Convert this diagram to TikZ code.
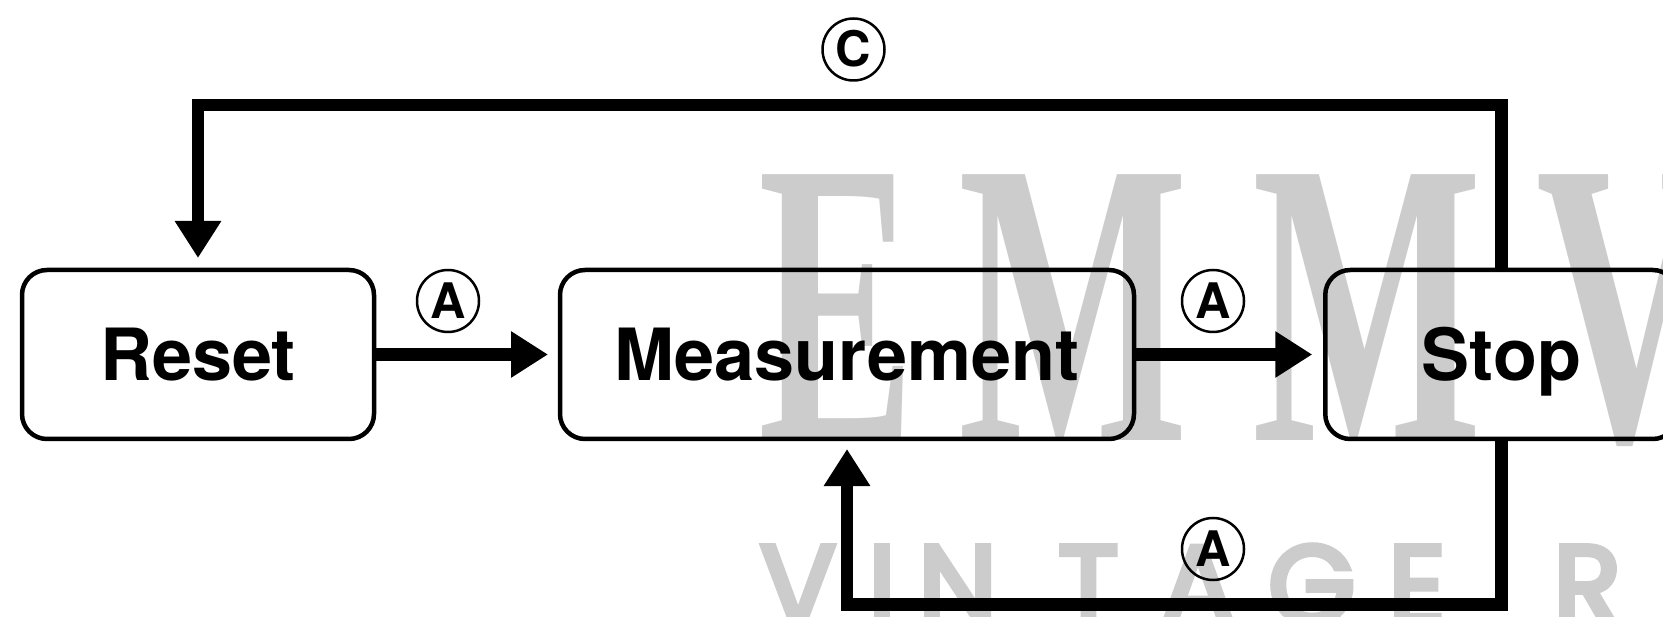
\documentclass[tikz,border=0pt]{standalone}
\usepackage{fontspec}
\setmainfont{TeX Gyre Heros}
\newfontfamily\wmserif{Liberation Serif}
\newfontfamily\wmsans[FakeBold=5]{Poppins}
\usetikzlibrary{arrows.meta}
\begin{document}
\begin{tikzpicture}[x=1pt,y=-1pt,
  stage/.style={draw, line width=4.5pt, rounded corners=25pt, inner sep=0pt,
    outer sep=0pt, minimum height=169pt, text height=52pt, text depth=0pt,
    font=\fontsize{72}{80}\selectfont\bfseries},
  flow/.style={line width=12.5pt, line join=miter,
    -{Triangle[length=37pt,width=44pt]}},
  tag/.style={draw, circle, line width=2.5pt, minimum size=62pt, inner sep=0pt,
    text height=35pt, text depth=0pt, font=\fontsize{49}{50}\selectfont\bfseries},
  wmbig/.style={text=black!20, inner sep=0pt, anchor=base west,
    font=\wmserif\bfseries\fontsize{406}{410}\selectfont},
  wmsmall/.style={text=black!20, inner sep=0pt, anchor=base west,
    font=\wmsans\fontsize{112}{114}\selectfont}]

  \useasboundingbox (0,0) rectangle (1663,617);
  \fill[white] (0,0) rectangle (1663,617);
  \clip (0,0) rectangle (1663,617);

  % background lettering
  \node[wmbig] (wE)  at (758,440)  {\scalebox{0.58}[1]{E}};
  \node[wmbig] (wM1) at (958,440)  {\scalebox{0.6}[1]{M}};
  \node[wmbig] (wM2) at (1252,440) {\scalebox{0.6}[1]{M}};
  \node[wmbig] (wV)  at (1536,440) {\scalebox{0.6}[1]{V}};
  \node[wmsmall] (sV) at (760,624)  {V};
  \node[wmsmall] (sI) at (868,624)  {I};
  \node[wmsmall] (sN) at (918,624)  {N};
  \node[wmsmall] (sT) at (1058,624) {T};
  \node[wmsmall] (sA) at (1160,624) {A};
  \node[wmsmall] (sG) at (1268,624) {G};
  \node[wmsmall] (sE) at (1388,624) {E};
  \node[wmsmall] (sR) at (1553,624) {R};

  % states
  \node[stage, minimum width=352pt]   (reset) at (198,354.5)    {Reset};
  \node[stage, minimum width=574pt]   (meas)  at (847,354.5)    {Measurement};
  \node[stage, minimum width=352.5pt] (stop)  at (1501.5,354.5) {Stop};

  % transitions
  \coordinate (top) at (0,105);
  \coordinate (bot) at (0,604.5);
  \draw[flow, shorten >=12pt] (reset.east) -- (meas.west);
  \draw[flow, shorten >=13pt] (meas.east) -- (stop.west);
  \draw[flow, shorten >=12pt] (stop.north) |- (reset.north |- top) -- (reset.north);
  \draw[flow, shorten >=10pt] (stop.south) |- (meas.south |- bot) -- (meas.south);

  % key labels
  \node[tag] (ka1) at (448,301)     {A};
  \node[tag] (ka2) at (1213,301)    {A};
  \node[tag] (ka3) at (1213,549)    {A};
  \node[tag] (kc)  at (853.5,49.5)  {C};
\end{tikzpicture}
\end{document}
